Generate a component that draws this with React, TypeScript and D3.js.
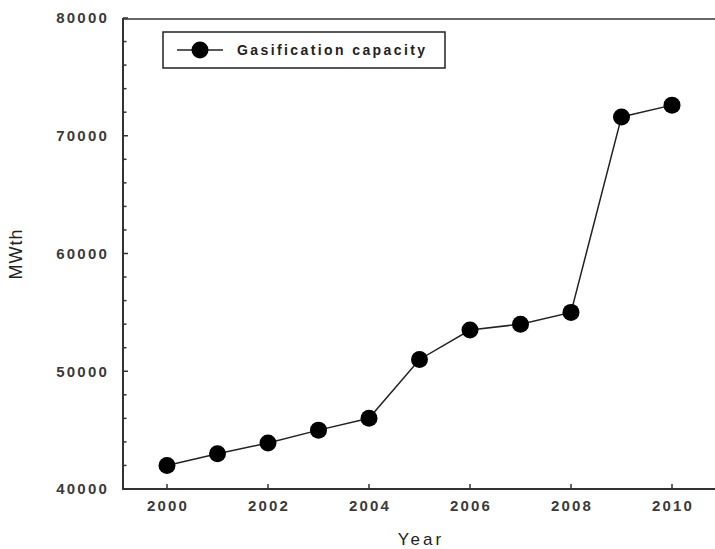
import React from "react";
import * as d3 from "d3";

const years = [2000, 2001, 2002, 2003, 2004, 2005, 2006, 2007, 2008, 2009, 2010];
const capacity = [42000, 43000, 43900, 45000, 46000, 51000, 53500, 54000, 55000, 71600, 72600];
const yTicks = [40000, 50000, 60000, 70000, 80000];
const yMinorTicks = d3.range(40000, 80001, 2000);
const xTicks = [2000, 2002, 2004, 2006, 2008, 2010];
const seriesName = "Gasification capacity";

const W = 715, H = 549;
const left = 123, top = 19, bottom = 489, right = 715;

export default function App() {
  const x = d3.scaleLinear().domain([2000, 2010]).range([167, 672]);
  const y = d3.scaleLinear().domain([40000, 80000]).range([489, 18]);
  const line = d3.line<number>().x((_, i) => x(years[i])).y((d) => y(d));
  const font = "'Liberation Sans', Arial, sans-serif";
  const tickColor = "#333";
  return (
    <svg width={W} height={H} style={{ position: "absolute", left: 0, top: 0, background: "#fff" }}>
      {/* spines */}
      <line x1={left} x2={right} y1={top} y2={top} stroke="#666" strokeWidth={2} />
      <line x1={left} x2={left} y1={top - 1} y2={bottom + 1} stroke="#333" strokeWidth={2} />
      <line x1={left} x2={right} y1={bottom} y2={bottom} stroke="#333" strokeWidth={2} />
      {/* y ticks */}
      {yMinorTicks.map((t) => {
        const major = t % 10000 === 0;
        return (
          <line key={"ym" + t} x1={left} x2={left + (major ? 5 : 3.5)} y1={y(t)} y2={y(t)} stroke={tickColor} strokeWidth={1.5} />
        );
      })}
      {yTicks.map((t) => (
        <text key={"yt" + t} x={109} y={y(t)} dy="0.36em" textAnchor="end" fontFamily={font} fontSize={15} fontWeight="bold" letterSpacing={2.2} fill="#3a3a3a">
          {t}
        </text>
      ))}
      {/* x ticks */}
      {xTicks.map((t) => (
        <g key={"xt" + t}>
          <line x1={x(t)} x2={x(t)} y1={bottom} y2={bottom - 5} stroke={tickColor} strokeWidth={1.5} />
          <text x={x(t) + 1} y={506} dy="0.36em" textAnchor="middle" fontFamily={font} fontSize={15} fontWeight="bold" letterSpacing={2.2} fill="#3a3a3a">
            {t}
          </text>
        </g>
      ))}
      {/* axis titles */}
      <text x={421} y={539} dy="0.36em" textAnchor="middle" fontFamily={font} fontSize={17} letterSpacing={3} fill="#222">
        Year
      </text>
      <text transform={`translate(16,254) rotate(-90)`} textAnchor="middle" dy="0.36em" fontFamily={font} fontSize={18} letterSpacing={1} fill="#222">
        MWth
      </text>
      {/* series */}
      <path d={line(capacity) || ""} fill="none" stroke="#222" strokeWidth={1.5} />
      {capacity.map((v, i) => (
        <circle key={"p" + i} cx={x(years[i])} cy={y(v)} r={8.5} fill="#000" />
      ))}
      {/* legend */}
      <rect x={163} y={32} width={282} height={36} fill="#fff" stroke="#222" strokeWidth={1.5} />
      <line x1={177} x2={223} y1={50} y2={50} stroke="#222" strokeWidth={1.5} />
      <circle cx={200} cy={50} r={8.5} fill="#000" />
      <text x={237} y={50} dy="0.36em" fontFamily={font} fontSize={14} fontWeight="bold" letterSpacing={2.4} fill="#222">
        {seriesName}
      </text>
    </svg>
  );
}
